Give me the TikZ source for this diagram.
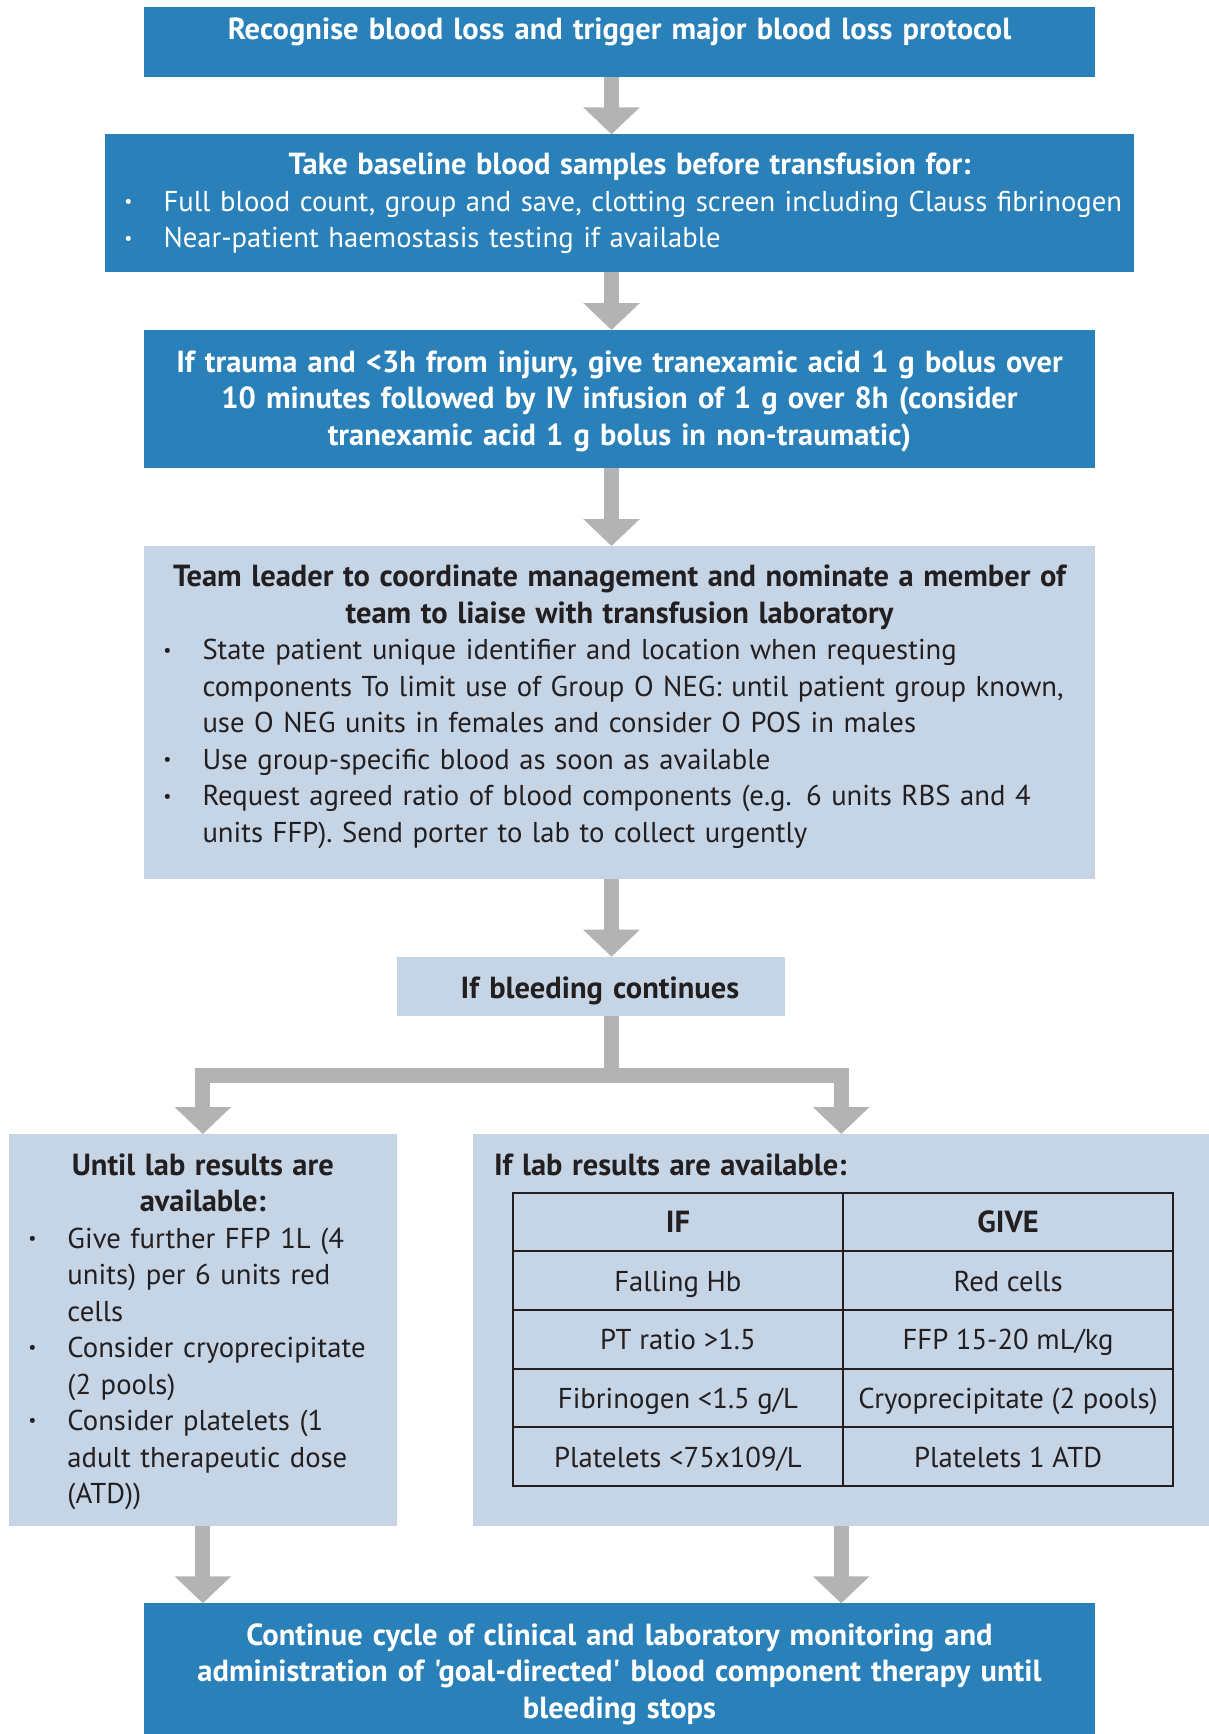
\documentclass[tikz,border=0pt]{standalone}
\usepackage{fontspec}
\setmainfont{PT Sans}[Ligatures=TeXOff]
\usetikzlibrary{arrows.meta,positioning,matrix}
\definecolor{darkblue}{HTML}{2A80B9}
\definecolor{paleblue}{HTML}{C5D5E6}
\definecolor{flowgray}{HTML}{B3B3B3}
\definecolor{ink}{HTML}{231F20}

\newcommand{\boxfont}{\fontsize{28.7}{36.5}\selectfont}
\newcommand{\headfont}{\fontsize{30.5}{36.5}\selectfont\bfseries}
\newcommand{\bulmark}{\raisebox{0.25ex}{\fontsize{18}{18}\selectfont\textbullet}}
\newcommand{\nl}{\hfil\break}
% bullet item: dot near the box edge, text hanging behind it
\newcommand{\bul}[1]{\par\noindent\hangindent=58.5pt\hangafter=1%
  \makebox[58.5pt][l]{\hspace{17pt}\makebox[13pt]{\bulmark}}#1\par}

\begin{document}
\begin{tikzpicture}[x=1pt,y=-1pt,
  flow/.style={draw=flowgray, line width=15pt, -{Triangle[width=55pt,length=27pt]}},
  darkbox/.style={fill=darkblue, text=white, font=\headfont, anchor=north,
    inner sep=0pt, outer sep=0pt},
  palebox/.style={fill=paleblue, text=ink, font=\boxfont, anchor=north,
    inner sep=0pt, outer sep=0pt},
  cell/.style={draw=ink, line width=2pt, minimum width=330.2pt, minimum height=58.74pt,
    inner sep=0pt, outer sep=0pt, text height=21pt, text depth=0pt, text=ink, font=\boxfont}]

\useasboundingbox (0,0) rectangle (1209,1734);
\coordinate (spine) at (611.5,0);

% main column
\node[darkbox, text width=951pt, text height=32.5pt, text depth=37.2pt, align=center]
  (recog) at (619.5,7) {Recognise blood loss and trigger major blood loss protocol};

\node[darkbox, font=\boxfont, text width=1029pt, text height=40.7pt, text depth=96.7pt]
  (samples) at (619.5,134.3) {{\centering\headfont\hspace*{20pt}Take baseline blood samples before transfusion for:\par}%
  \bul{Full blood count, group and save, clotting screen including Clauss fibrinogen}%
  \bul{Near-patient haemostasis testing if available}};

\node[darkbox, text width=951pt, text height=42.3pt, text depth=95.4pt, align=center]
  (txa) at (619.5,330) {If trauma and <3h from injury, give tranexamic acid 1 g bolus over\\
  10 minutes followed by IV infusion of 1 g over 8h (consider\\
  tranexamic acid 1 g bolus in non-traumatic)};

\node[palebox, text width=951pt, text height=40.7pt, text depth=292pt]
  (leader) at (619.5,546) {{\centering\headfont Team leader to coordinate management and nominate a member of\\
  team to liaise with transfusion laboratory\par}%
  \bul{State patient unique identifier and location when requesting\nl
  components To limit use of Group O NEG: until patient group known,\nl
  use O NEG units in females and consider O POS in males}%
  \bul{Use group-specific blood as soon as available}%
  \bul{Request agreed ratio of blood components (e.g. 6 units RBS and 4\nl
  units FFP). Send porter to lab to collect urgently}};

\node[palebox, font=\headfont, text width=387.8pt, text height=41.6pt, text depth=17.4pt, align=center]
  (bleed) at (590.9,956.7) {\hspace*{18pt}If bleeding continues};

% two branches
\node[palebox, text width=387.7pt, text height=41pt, text depth=350.7pt]
  (untillab) at (202.85,1134) {{\centering\headfont Until lab results are\\available:\par}%
  \bul{Give further FFP 1L (4\nl units) per 6 units red\nl cells}%
  \bul{Consider cryoprecipitate\nl (2 pools)}%
  \bul{Consider platelets (1\nl adult therapeutic dose\nl (ATD))}};

\node[palebox, text width=735.6pt, text height=41pt, text depth=350.7pt]
  (iflab) at (841.2,1134) {\hspace*{20.6pt}{\headfont If lab results are available:}\hfill};

\matrix (labtable) [matrix of nodes, nodes={cell}, column sep=-2pt, row sep=-2pt,
  inner sep=0pt, anchor=north west] at (511.6,1191.3) {
  |[font=\headfont]| IF & |[font=\headfont]| GIVE \\
  Falling Hb & Red cells \\
  PT ratio >1.5 & FFP 15-20 mL/kg \\
  Fibrinogen <1.5 g/L & Cryoprecipitate (2 pools) \\
  Platelets <75x109/L & Platelets 1 ATD \\
};

\node[darkbox, text width=950.6pt, text height=42pt, text depth=88.7pt, align=center]
  (cycle) at (619.5,1603.3) {Continue cycle of clinical and laboratory monitoring and\\
  administration of 'goal-directed' blood component therapy until\\
  bleeding stops};

% connectors
\draw[flow] (recog.south -| spine) -- (samples.north -| spine);
\draw[flow] (samples.south -| spine) -- (txa.north -| spine);
\draw[flow] (txa.south -| spine) -- (leader.north -| spine);
\draw[flow] (leader.south -| spine) -- (bleed.north -| spine);
\draw[flow] (bleed.south -| spine) -- ++(0,59.3) -| (untillab.north);
\draw[flow] (bleed.south -| spine) -- ++(0,59.3) -| (iflab.north);
\draw[flow] (untillab.south) -- (untillab.south |- cycle.north);
\draw[flow] (iflab.south) -- (iflab.south |- cycle.north);
\end{tikzpicture}
\end{document}
